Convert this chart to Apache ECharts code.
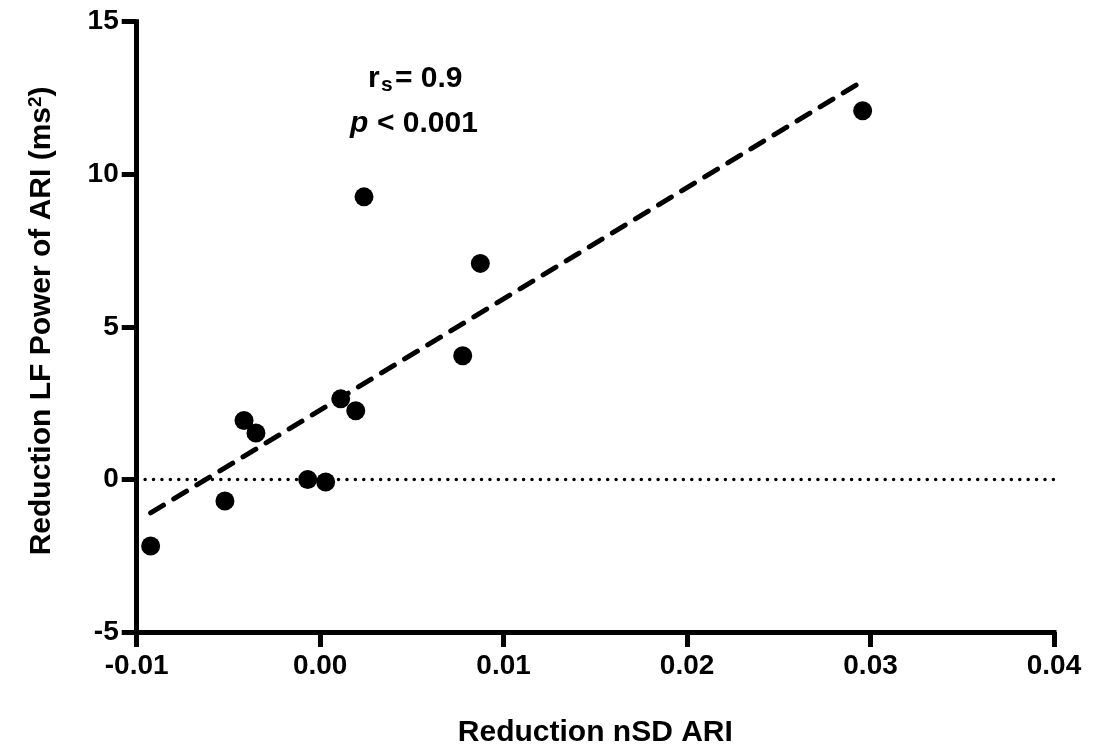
<!DOCTYPE html>
<html>
<head>
<meta charset="utf-8">
<title>LF power vs nSD ARI reduction</title>
<script src="https://cdn.jsdelivr.net/npm/echarts@6/dist/echarts.min.js"></script>
<style>
  html, body { margin: 0; padding: 0; background: #fff; }
  #chart { width: 1094px; height: 753px; }
</style>
</head>
<body>
<div id="chart"></div>
<script>
// Reduction in nSD ARI (x) against reduction in LF power of ARI (y), one entry per subject
const nsdReduction = [-0.00924, -0.00519, -0.00415, -0.00350, -0.00068, 0.00030,
                      0.00112, 0.00194, 0.00239, 0.00873, 0.00777, 0.02957];
const lfReduction  = [-2.18, -0.71, 1.93, 1.52, 0.00, -0.085,
                      2.64, 2.25, 9.26, 7.08, 4.05, 12.08];

const xTicks = [-0.01, 0.00, 0.01, 0.02, 0.03, 0.04];
const yTicks = [-5, 0, 5, 10, 15];

const FONT = '"Liberation Sans", Arial, Helvetica, sans-serif';

// least-squares fit, drawn across the observed x range
function linearFit(xs, ys) {
  const n = xs.length;
  const mx = xs.reduce((a, b) => a + b, 0) / n;
  const my = ys.reduce((a, b) => a + b, 0) / n;
  let sxy = 0, sxx = 0;
  for (let i = 0; i < n; i++) {
    sxy += (xs[i] - mx) * (ys[i] - my);
    sxx += (xs[i] - mx) * (xs[i] - mx);
  }
  const slope = sxy / sxx;
  return { slope, intercept: my - slope * mx };
}
const fit = linearFit(nsdReduction, lfReduction);
const xLo = Math.min(...nsdReduction), xHi = Math.max(...nsdReduction);
const fitLine = [[xLo, fit.intercept + fit.slope * xLo], [xHi, fit.intercept + fit.slope * xHi]];

const points = nsdReduction.map((x, i) => [x, lfReduction[i]]);

const axisCommon = {
  axisLine: { show: true, onZero: false, lineStyle: { color: '#000', width: 5, cap: 'square' } },
  axisTick: { show: true, length: 15, lineStyle: { color: '#000', width: 5 } },
  splitLine: { show: false },
  nameLocation: 'middle'
};

const chart = echarts.init(document.getElementById('chart'), null, { renderer: 'canvas' });
chart.setOption({
  animation: false,
  backgroundColor: '#fff',
  grid: { left: 136.7, right: 40, top: 21.7, bottom: 119.3 },
  xAxis: Object.assign({}, axisCommon, {
    type: 'value',
    min: xTicks[0], max: xTicks[xTicks.length - 1], interval: 0.01,
    axisLabel: {
      margin: 20, color: '#000', fontFamily: FONT, fontWeight: 'bold', fontSize: 28,
      formatter: v => v.toFixed(2)
    },
    name: 'Reduction nSD ARI',
    nameGap: 86,
    nameTextStyle: { color: '#000', fontFamily: FONT, fontWeight: 'bold', fontSize: 30 }
  }),
  yAxis: Object.assign({}, axisCommon, {
    type: 'value',
    min: yTicks[0], max: yTicks[yTicks.length - 1], interval: 5,
    axisLabel: {
      margin: 18, color: '#000', fontFamily: FONT, fontWeight: 'bold', fontSize: 28,
      formatter: v => String(v)
    },
    name: 'Reduction LF Power of ARI (ms{sup|2})',
    nameGap: 80,
    nameRotate: 90,
    nameTextStyle: {
      color: '#000', fontFamily: FONT, fontWeight: 'bold', fontSize: 30,
      padding: [0, 0, 0, 12],
      rich: {
        sup: { fontFamily: FONT, fontWeight: 'bold', fontSize: 19, color: '#000',
               verticalAlign: 'top', lineHeight: 30 }
      }
    }
  }),
  series: [
    {
      name: 'zero',
      type: 'line',
      data: [[xTicks[0], 0], [xTicks[xTicks.length - 1], 0]],
      showSymbol: false,
      silent: true,
      z: 1,
      lineStyle: { color: '#000', width: 3.5, type: [0.01, 8.4], cap: 'round' }
    },
    {
      name: 'fit',
      type: 'line',
      data: fitLine,
      showSymbol: false,
      silent: true,
      z: 2,
      lineStyle: { color: '#000', width: 5, type: [15, 12], cap: 'round' }
    },
    {
      name: 'subjects',
      type: 'scatter',
      data: points,
      symbol: 'circle',
      symbolSize: 19,
      z: 3,
      itemStyle: { color: '#000', opacity: 1 }
    }
  ],
  graphic: [
    {
      type: 'group',
      left: 350, top: 64,
      children: [
        { type: 'text', x: 18, y: 32, style: { text: 'r', fill: '#000', font: 'bold 30px ' + FONT, textBaseline: 'alphabetic' } },
        { type: 'text', x: 31, y: 43, style: { text: 's', fill: '#000', font: 'bold 21px ' + FONT, textBaseline: 'alphabetic' } },
        { type: 'text', x: 45, y: 32, style: { text: '= 0.9', fill: '#000', font: 'bold 30px ' + FONT, textBaseline: 'alphabetic' } },
        { type: 'text', x: 0, y: 77, style: { text: 'p', fill: '#000', font: 'italic bold 30px ' + FONT, textBaseline: 'alphabetic' } },
        { type: 'text', x: 27, y: 77, style: { text: '< 0.001', fill: '#000', font: 'bold 30px ' + FONT, textBaseline: 'alphabetic' } }
      ]
    }
  ]
});
</script>
</body>
</html>
